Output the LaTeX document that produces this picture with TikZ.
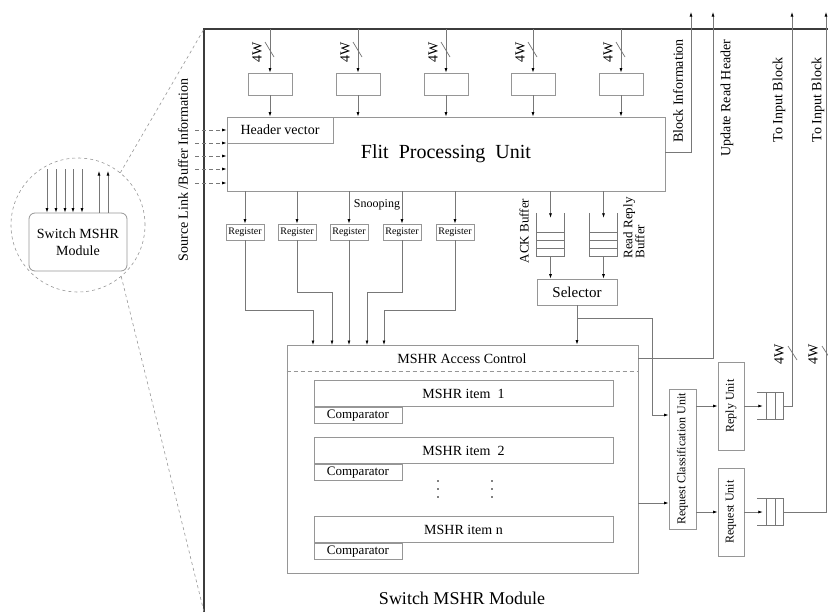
\documentclass[tikz,border=0pt]{standalone}
\usepackage{fontspec}
\setmainfont{Liberation Serif}
\usetikzlibrary{arrows.meta,positioning,calc}
\definecolor{wiregray}{RGB}{120,120,120}
\definecolor{boxgray}{RGB}{150,150,150}
\definecolor{framegray}{RGB}{60,60,60}
\newcommand{\fsz}[1]{\fontsize{#1}{#1}\selectfont}

\begin{document}
\begin{tikzpicture}[x=1pt, y=-1pt,
  unit/.style={draw=boxgray, line width=0.8pt, inner sep=0pt, font=\fsz{14}},
  reg/.style={unit, minimum width=38, minimum height=16, font=\fsz{10}},
  item/.style={unit, minimum width=299, minimum height=26},
  cmp/.style={unit, minimum width=88, minimum height=16, anchor=north west, font=\fsz{13}},
  queue/.style={inner sep=0pt},
  wire/.style={draw=wiregray, line width=0.7pt},
  arr/.style={wire, -{Latex[length=4.5pt,width=3pt,color=black]}},
  darr/.style={arr, dash pattern=on 4pt off 3pt},
  lbl/.style={font=\fsz{14}, inner sep=0pt},
  vlbl/.style={lbl, rotate=90},
  guide/.style={draw=boxgray, line width=0.6pt, dash pattern=on 3pt off 3pt}
]
  \useasboundingbox (0,0) rectangle (828,616);

  % module outline and zoom lens
  \draw[framegray, line width=1.4pt] (204,612) -- (204,29) -- (828,29);
  \coordinate (fnw) at (204,29);
  \coordinate (fsw) at (204,612);
  \node[draw=boxgray, line width=0.6pt, dash pattern=on 3pt off 3pt, circle, minimum size=134, inner sep=0pt] (lens) at (78,225) {};
  \draw[guide] (lens.51) -- (fnw);
  \draw[guide] (lens.-50) -- (fsw);
  \node[unit, rounded corners=6pt, minimum width=98, minimum height=58, align=center, font=\fontsize{14}{17}\selectfont] (swm) at (78,242) {Switch MSHR\\Module};
  \foreach \x in {47,56,65,73,82}
    \draw[arr] (\x,169) -- (\x,169 |- swm.north);
  \foreach \x in {99,108}
    \draw[arr] (\x,169 |- swm.north) -- (\x,171);

  % flit processing unit
  \node[unit, minimum width=438, minimum height=74, font=\fsz{20}] (fpu) at (446,154) {Flit~~Processing~~Unit};
  \node[unit, anchor=north west, minimum width=106, minimum height=26] (hdr) at (fpu.north west) {Header vector};
  \node[vlbl] (srclbl) at (183,170) {Source Link /Buffer Information};
  \foreach \y in {130,143,156,169,183}
    \draw[darr] (195,\y) -- (fpu.west |- 0,\y);

  \foreach \x [count=\i] in {270,358,446,533,621} {
    \node[unit, minimum width=44, minimum height=22] (ib\i) at (\x,84) {};
    \draw[arr] (\x,29) -- (ib\i.north);
    \draw[wire] ({\x-5},42) -- ({\x+4},57);
    \node[vlbl] (w\i) at ({\x-13},52) {4W};
    \draw[arr] (ib\i.south) -- (ib\i.south |- fpu.north);
  }

  % registers
  \foreach \x [count=\i] in {245,297,349,402,455} {
    \node[reg] (r\i) at (\x,232) {Register};
    \draw[arr] (r\i.north |- fpu.south) -- (r\i.north);
  }
  \node[lbl, font=\fsz{12}] (snoop) at (377,205) {Snooping};

  % ack / read reply buffers
  \node[queue, minimum width=27, minimum height=43] (ackq) at (550.5,234.5) {};
  \node[queue, minimum width=27, minimum height=43] (rrq) at (603.5,234.5) {};
  \foreach \q in {ackq,rrq} {
    \draw[wire] (\q.north west) -- (\q.south west) -- (\q.south east) -- (\q.north east);
    \foreach \f in {0.44,0.63,0.81}
      \draw[wire] ($(\q.north west)!\f!(\q.south west)$) -- ($(\q.north east)!\f!(\q.south east)$);
    \draw[arr] (\q.north |- fpu.south) -- ($(\q.north)+(0,5)$);
  }
  \node[vlbl, font=\fsz{13}] (acklbl) at (524,231) {ACK Buffer};
  \node[vlbl, font=\fontsize{13}{12}\selectfont, align=left] (rrlbl) at (634,228) {Read Reply\\Buffer};

  \node[unit, minimum width=80, minimum height=26, font=\fsz{15}] (sel) at (577,292) {Selector};
  \draw[arr] (ackq.south) -- (ackq.south |- sel.north);
  \draw[arr] (rrq.south) -- (rrq.south |- sel.north);

  % MSHR block
  \node[unit, minimum width=351, minimum height=228] (mshr) at (462.5,459) {};
  \draw[draw=boxgray, line width=0.7pt, dash pattern=on 4pt off 3pt] ($(mshr.north west)+(0,27)$) -- ($(mshr.north east)+(0,27)$);
  \node[lbl] (acc) at (462,359) {MSHR Access Control};
  \node[item] (it1) at (463.5,393.5) {MSHR item~~1};
  \node[cmp] (c1) at (it1.south west) {Comparator};
  \node[item] (it2) at (463.5,450.5) {MSHR item~~2};
  \node[cmp] (c2) at (it2.south west) {Comparator};
  \node[item] (itn) at (463.5,529.5) {MSHR item n};
  \node[cmp] (cn) at (itn.south west) {Comparator};
  \foreach \x in {438,492}
    \foreach \y in {481,489,497}
      \fill (\x,\y) circle (0.8);
  \node[lbl, font=\fsz{18}] (title) at (462,598) {Switch MSHR Module};

  \foreach \x [count=\i] in {313,332,349,367,384}
    \coordinate (m\i) at (\x,345);
  \draw[arr] (r1.south) -- ++(0,70) -| (m1);
  \draw[arr] (r2.south) -- ++(0,52) -| (m2);
  \draw[arr] (r3.south) -- (m3);
  \draw[arr] (r4.south) -- ++(0,52) -| (m4);
  \draw[arr] (r5.south) -- ++(0,70) -| (m5);
  \draw[arr] (sel.south) -- (sel.south |- mshr.north);

  % request classification and output units
  \node[unit, minimum width=27, minimum height=140, font=\fsz{12}] (rcu) at (682.5,459) {\rotatebox{90}{Request Classification Unit}};
  \node[unit, minimum width=26, minimum height=88, font=\fsz{12}] (rpu) at (731,406) {\rotatebox{90}{Reply Unit}};
  \node[unit, minimum width=26, minimum height=88, font=\fsz{12}] (rqu) at (731,512) {\rotatebox{90}{Request Unit}};
  \draw[arr] (sel.south) |- (652,318) |- (rcu.west |- 0,415);
  \draw[arr] (mshr.east |- 0,503) -- (rcu.west |- 0,503);
  \draw[arr] (rcu.east |- rpu) -- (rpu.west);
  \draw[arr] (rcu.east |- rqu) -- (rqu.west);

  \node[queue, minimum width=26, minimum height=26] (oq1) at (770,406) {};
  \node[queue, minimum width=26, minimum height=26] (oq2) at (770,512) {};
  \foreach \q in {oq1,oq2} {
    \draw[wire] (\q.north west) -- (\q.north east) -- (\q.south east) -- (\q.south west);
    \foreach \f in {0.35,0.69}
      \draw[wire] ($(\q.north west)!\f!(\q.north east)$) -- ($(\q.south west)!\f!(\q.south east)$);
  }
  \draw[arr] (rpu.east) -- ($(oq1.west)+(6,0)$);
  \draw[arr] (rqu.east) -- ($(oq2.west)+(6,0)$);

  % outgoing signals
  \coordinate (bi) at (691,12);
  \coordinate (urh) at (713,12);
  \coordinate (tib1) at (792,12);
  \coordinate (tib2) at (826,12);
  \draw[arr] (fpu.east |- 0,152) -| (bi);
  \draw[arr] (mshr.east |- 0,358) -| (urh);
  \draw[arr] (oq1.east) -| (tib1);
  \draw[arr] (oq2.east) -| (tib2);
  \node[vlbl] (bilbl) at (678,91) {Block Information};
  \node[vlbl] (urhlbl) at (727,98) {Update Read Header};
  \node[vlbl] (tiblbl1) at (779,100) {To Input Block};
  \node[vlbl] (tiblbl2) at (818,100) {To Input Block};
  \foreach \x in {792,826} {
    \draw[wire] ({\x-4},346) -- ({\x+5},360);
    \node[vlbl] at ({\x-13},354) {4W};
  }
\end{tikzpicture}
\end{document}
